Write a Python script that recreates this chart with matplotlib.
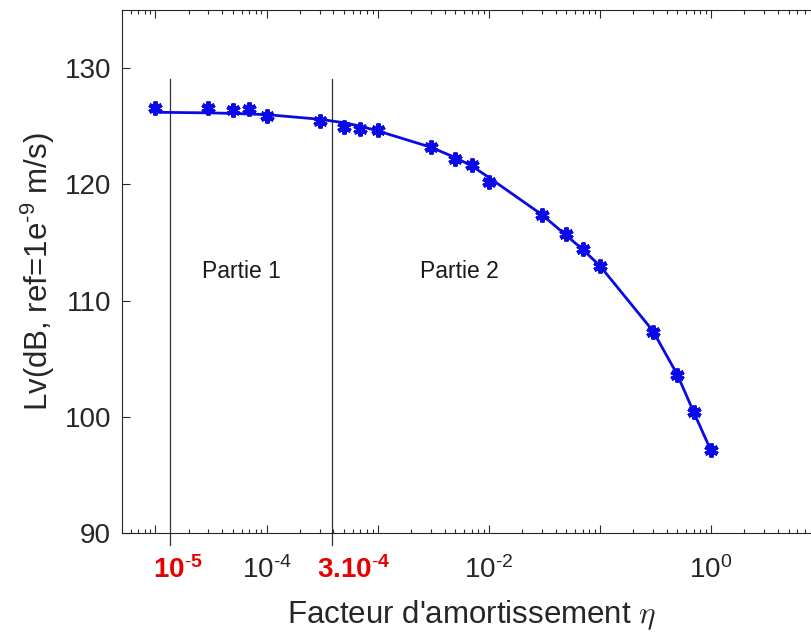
import matplotlib
matplotlib.use("Agg")
import matplotlib.pyplot as plt
from matplotlib.ticker import LogLocator, NullFormatter, FixedLocator

plt.rcParams['font.family'] = ['Liberation Sans', 'DejaVu Sans']
plt.rcParams['mathtext.fontset'] = 'custom'
plt.rcParams['mathtext.rm'] = 'Liberation Sans'
plt.rcParams['mathtext.it'] = 'Liberation Sans:italic'
plt.rcParams['mathtext.bf'] = 'Liberation Sans:bold'

# data
eta = [1e-5, 3e-5, 5e-5, 7e-5, 1e-4, 3e-4, 5e-4, 7e-4, 1e-3, 3e-3, 5e-3, 7e-3,
       1e-2, 3e-2, 5e-2, 7e-2, 0.1, 0.3, 0.5, 0.7, 1.0]
lv_meas = [126.6, 126.6, 126.4, 126.5, 125.9, 125.45, 124.9, 124.75, 124.7, 123.2, 122.2, 121.7,
           120.2, 117.4, 115.75, 114.4, 113.0, 107.3, 103.6, 100.4, 97.1]
lv_fit = [126.2, 126.15, 126.1, 126.05, 126.0, 125.6, 125.3, 125.0, 124.6, 123.2, 122.3, 121.6,
          120.6, 117.4, 115.6, 114.4, 113.0, 107.4, 103.6, 100.4, 97.1]
limits = [1.35e-5, 3.9e-4]
limit_label_x = [1.6e-5, 6.1e-4]
limit_labels = [r'$\mathbf{10^{\text{-}5}}$', r'$\mathbf{3.10^{\text{-}4}}$']
parts = ['Partie 1', 'Partie 2']
part_x = [5.9e-5, 5.4e-3]
yticks = [90, 100, 110, 120, 130]
xmajor = [1e-5, 1e-4, 1e-3, 1e-2, 1e-1, 1e0, 1e1]
xmajor_labels = ['', r'$\mathdefault{10^{\text{-}4}}$', '', r'$\mathdefault{10^{\text{-}2}}$', '',
                 r'$\mathdefault{10^{0}}$', '']

fig = plt.figure(figsize=(8.11, 6.34), dpi=100)
ax = fig.add_axes([122/811, 1-533/634, 700/811, (533-10)/634])
ax.set_xscale('log')
ax.set_xlim(5e-6, 10)
ax.set_ylim(90, 135)

dark = '#262626'
blue = '#0a0ae6'
ax.plot(eta, lv_fit, '-', color=blue, lw=2.0, zorder=3)
ax.plot(eta, lv_meas, ls='none', marker=(6, 2, 0), ms=10, mew=3.0, color=blue, zorder=4)

for xv in limits:
    ax.plot([xv, xv], [89.0, 129.05], color='#333333', lw=0.9, clip_on=False, zorder=2)
for xv, lab in zip(limit_label_x, limit_labels):
    ax.text(xv, 88.0, lab, color='#e60000', fontsize=20, ha='center', va='top')
for xv, lab in zip(part_x, parts):
    ax.text(xv, 111.9, lab, color='#1a1a1a', fontsize=16.5, ha='center', va='baseline')

ax.xaxis.set_major_locator(FixedLocator(xmajor))
ax.set_xticklabels(xmajor_labels)
ax.xaxis.set_minor_locator(LogLocator(base=10, subs=[2, 3, 4, 5, 6, 7, 8, 9], numticks=50))
ax.xaxis.set_minor_formatter(NullFormatter())
ax.set_yticks(yticks)
ax.tick_params(axis='both', which='both', direction='in', top=True, right=True,
               colors=dark, labelcolor=dark, labelsize=20, width=0.8)
ax.tick_params(axis='both', which='major', length=6)
ax.tick_params(axis='both', which='minor', length=3)
ax.tick_params(axis='x', which='major', pad=17)
ax.tick_params(axis='y', which='major', pad=8)
for s in ax.spines.values():
    s.set_color(dark)
    s.set_linewidth(0.8)

ax.set_xlabel(r"Facteur d'amortissement $\eta$", fontsize=22.5, color=dark, labelpad=10,
              math_fontfamily='cm')
ax.set_ylabel(r'Lv(dB, ref=1e$^{\text{-}9}$ m/s)', fontsize=22.5, color=dark, labelpad=5)

fig.savefig('out.png', dpi=100)
